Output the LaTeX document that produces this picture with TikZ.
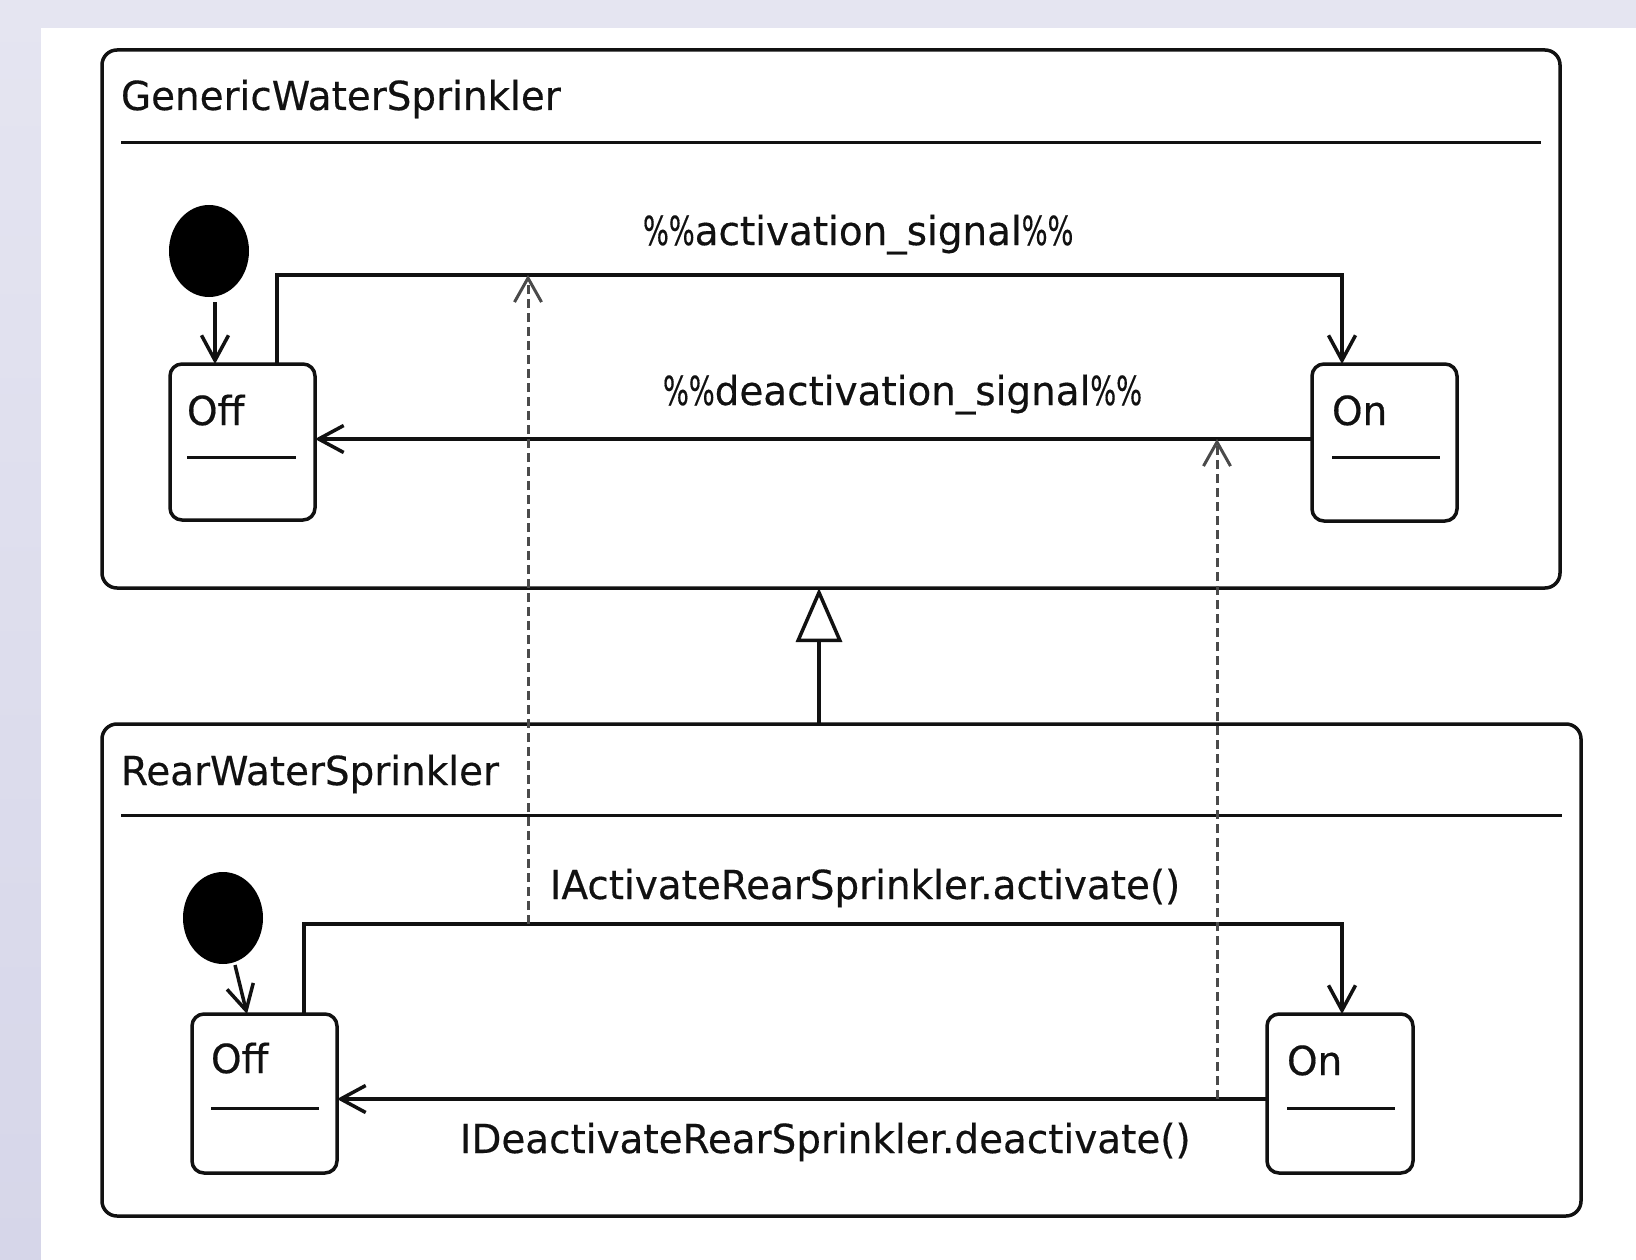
\documentclass[tikz,border=0pt]{standalone}
\usepackage{fontspec}
\setmainfont{DejaVu Sans}[FakeStretch=0.972, FakeBold=0.4]
\usetikzlibrary{arrows.meta,shapes.geometric}
\newcommand{\pc}{\scalebox{0.7}[1]{\%}}
\definecolor{bgtop}{HTML}{E5E5F1}
\definecolor{bgbot}{HTML}{D6D6E9}
\definecolor{dashgray}{HTML}{4A4A4A}
\definecolor{ink}{HTML}{111111}
\tikzset{
  container/.style={draw=ink, line width=3.5pt, rounded corners=15pt, inner sep=0pt, outer sep=0pt, fill=white},
  statebox/.style={draw=ink, line width=3.5pt, rounded corners=12pt, inner sep=0pt, outer sep=0pt, minimum width=145pt, fill=white},
  initdot/.style={ellipse, fill=black, inner sep=0pt, outer sep=0pt, minimum width=80pt, minimum height=92pt},
  txt/.style={inner sep=0pt, outer sep=0pt, anchor=base west, text=ink, font=\fontsize{40}{48}\selectfont},
  sepline/.style={draw=ink, line width=3pt},
  arr/.style={draw=ink, line width=3.5pt, -{Straight Barb[length=25pt,width=27pt]}},
  dep/.style={draw=dashgray, line width=3pt, dash pattern=on 9pt off 5pt, -{Straight Barb[length=24pt,width=27pt]}},
  gen/.style={draw=ink, line width=3.5pt, -{Triangle[open,length=54pt,width=46pt,fill=white]}}
}
\begin{document}
\begin{tikzpicture}[x=1pt,y=-1pt]
\useasboundingbox (0,0) rectangle (1636,1260);
% background
\shade[top color=bgtop, bottom color=bgbot] (0,0) rectangle (1636,1260);
\fill[white] (41,28) rectangle (1636,1260);

% containers
\node[container, minimum width=1458pt, minimum height=538pt] (gws) at (831,319) {};
\node[container, minimum width=1479pt, minimum height=492pt] (rws) at (841.5,970) {};

% titles
\node[txt] (gtitle) at (121,110) {GenericWaterSprinkler};
\node[txt] (rtitle) at (121,785) {RearWaterSprinkler};
\coordinate (gs1) at (121,143); \coordinate (gs2) at (1541,143);
\coordinate (rs1) at (121,815); \coordinate (rs2) at (1562,815);
\draw[sepline] (gs1) -- (gs2);
\draw[sepline] (rs1) -- (rs2);

% generic states
\node[initdot] (gdot) at (209,251) {};
\node[statebox, minimum height=156pt] (goff) at (242.5,442) {};
\node[statebox, minimum height=157pt] (gon) at (1384.5,442.5) {};
\node[txt] (gofft) at (187,425) {Off};
\node[txt] (gont) at (1332,425) {On};
\coordinate (goffs1) at (187,457); \coordinate (goffs2) at (296,457);
\coordinate (gons1) at (1332,457); \coordinate (gons2) at (1440,457);
\draw[sepline] (goffs1) -- (goffs2);
\draw[sepline] (gons1) -- (gons2);

% rear states
\node[initdot] (rdot) at (223,918) {};
\node[statebox, minimum height=159pt] (roff) at (264.5,1093.5) {};
\node[statebox, minimum height=159pt, minimum width=146pt] (ron) at (1340,1093.5) {};
\node[txt] (rofft) at (211,1073) {Off};
\node[txt] (ront) at (1287,1075) {On};
\coordinate (roffs1) at (211,1108); \coordinate (roffs2) at (319,1108);
\coordinate (rons1) at (1287,1108); \coordinate (rons2) at (1395,1108);
\draw[sepline] (roffs1) -- (roffs2);
\draw[sepline] (rons1) -- (rons2);

% generalization
\coordinate (gx) at (819,0);
\draw[gen] (rws.north -| gx) -- (gws.south -| gx);

% generic transitions
\coordinate (ga) at (277,275);
\coordinate (gb) at (1342,275);
\draw[arr] (goff.north -| ga) -- (ga) -| (gon.north -| gb);
\coordinate (gd) at (0,439);
\draw[arr] (gon.west |- gd) -- (goff.east |- gd);
\coordinate (gi) at (215,302);
\draw[arr] (gi) -- (goff.north -| gi);

% rear transitions
\coordinate (ra) at (304,924);
\coordinate (rb) at (1342,924);
\draw[arr] (roff.north -| ra) -- (ra) -| (ron.north -| rb);
\coordinate (rd) at (0,1099);
\draw[arr] (ron.west |- rd) -- (roff.east |- rd);
\coordinate (ri1) at (235,965);
\coordinate (ri2) at (247,1014);
\draw[arr] (ri1) -- (ri2);

% dependencies (dashed)
\coordinate (d1s) at (528,924); \coordinate (d1e) at (528,275);
\coordinate (d2s) at (1217,1099); \coordinate (d2e) at (1217,439);
\draw[dep] (d1s) -- (d1e);
\draw[dep] (d2s) -- (d2e);

% labels
\node[txt] (l1) at (643,245) {\pc\pc activation\_signal\pc\pc};
\node[txt] (l2) at (663,405) {\pc\pc deactivation\_signal\pc\pc};
\node[txt] (l3) at (550,899) {IActivateRearSprinkler.activate()};
\node[txt] (l4) at (460,1153) {IDeactivateRearSprinkler.deactivate()};
\end{tikzpicture}
\end{document}
